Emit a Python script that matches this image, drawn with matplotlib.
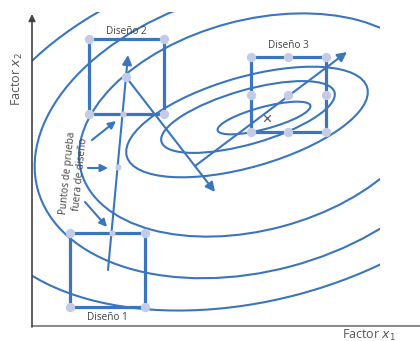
import numpy as np
import matplotlib.pyplot as plt
from matplotlib.patches import Ellipse, Rectangle

plt.rcParams['font.family'] = ['Open Sans', 'DejaVu Sans']

BLUE = '#3a75bd'
DOT = '#c3cbe6'
GREY = '#555555'

# response contours: centre x, centre y, width, height, tilt (canvas pixels)
contour_cx = [264, 248, 247, 255, 255, 255]
contour_cy = [118, 117, 122, 125, 131, 130]
contour_w = [96, 180, 250, 360, 450, 580]
contour_h = [22, 54, 90, 210, 280, 340]
contour_tilt = [15, 16, 16, 15, 15, 15]

# design squares (left, top, right, bottom) and their labels
design_boxes = [(70, 233, 145, 307), (89, 39, 164, 114), (251, 57, 326, 132)]
design_names = ['Diseño 1', 'Diseño 2', 'Diseño 3']
design_label_xy = [(107, 318), (126, 31), (288, 45)]

# run points
big_x = [70, 145, 70, 145, 89, 164, 89, 164, 126,
         251, 288, 326, 251, 288, 326, 251, 288, 326]
big_y = [233, 233, 307, 307, 39, 39, 114, 114, 77,
         57, 57, 57, 95, 95, 95, 132, 132, 132]
small_x = [112, 123, 118]
small_y = [233, 114, 167]

# path of steepest ascent segments (start, tip)
paths = [((108, 270), (128, 55)),
         ((126, 77), (215, 192)),
         ((195, 166), (347, 52))]
# short pointers to the off-design test points
pointers = [((92, 140), (116, 121)),
            ((88, 168), (108, 168)),
            ((85, 202), (107, 227))]

optimum = (267, 118)

fig = plt.figure(figsize=(4.2, 3.41), dpi=100)
ax = fig.add_axes([0, 0, 1, 1])
ax.set_xlim(0, 420)
ax.set_ylim(341, 0)
ax.axis('off')

clip = Rectangle((32, 12), 348, 315, transform=ax.transData, fill=False)
for cx, cy, w, h, t in zip(contour_cx, contour_cy, contour_w, contour_h, contour_tilt):
    e = Ellipse((cx, cy), w, h, angle=-t, fill=False, ec=BLUE, lw=1.5, zorder=1)
    ax.add_patch(e)
    e.set_clip_path(clip)

# axes with arrow on the vertical one
ax.plot([32, 420], [326, 326], color='#777777', lw=1.2, zorder=2)
ax.annotate('', xy=(32, 14), xytext=(32, 327),
            arrowprops=dict(arrowstyle='-|>', color='#444444', lw=1.2,
                            mutation_scale=10, shrinkA=0, shrinkB=0))

for (l, t, r, b), name, (lx, ly) in zip(design_boxes, design_names, design_label_xy):
    ax.plot([l, r, r, l, l], [t, t, b, b, t], color=BLUE, lw=2.3, zorder=3)
    ax.text(lx, ly, name, ha='center', va='center', fontsize=7.2, color='#444444')

for (x0, y0), (x1, y1) in paths:
    ax.annotate('', xy=(x1, y1), xytext=(x0, y0),
                arrowprops=dict(arrowstyle='-|>', color=BLUE, lw=1.5,
                                mutation_scale=14, shrinkA=0, shrinkB=0), zorder=4)
for (x0, y0), (x1, y1) in pointers:
    ax.annotate('', xy=(x1, y1), xytext=(x0, y0),
                arrowprops=dict(arrowstyle='-|>', color=BLUE, lw=1.5,
                                mutation_scale=11, shrinkA=0, shrinkB=0), zorder=4)

ax.scatter(big_x, big_y, s=45, color=DOT, zorder=5, linewidths=0)
ax.scatter(small_x, small_y, s=20, color=DOT, zorder=5, linewidths=0)
ax.scatter([optimum[0]], [optimum[1]], marker='x', s=22, color='#555555', lw=0.9, zorder=5)

ax.text(74, 174, 'Puntos de prueba\nfuera de diseño', rotation=84, rotation_mode='anchor',
        ha='center', va='center', fontsize=7.2, color='#444444', linespacing=1.1)

ax.text(17, 79, 'Factor $x_2$', rotation=90, ha='center', va='center',
        fontsize=9, color=GREY)
ax.text(369, 335, 'Factor $x_1$', ha='center', va='center', fontsize=9, color=GREY)

fig.savefig('out.png', dpi=100)
